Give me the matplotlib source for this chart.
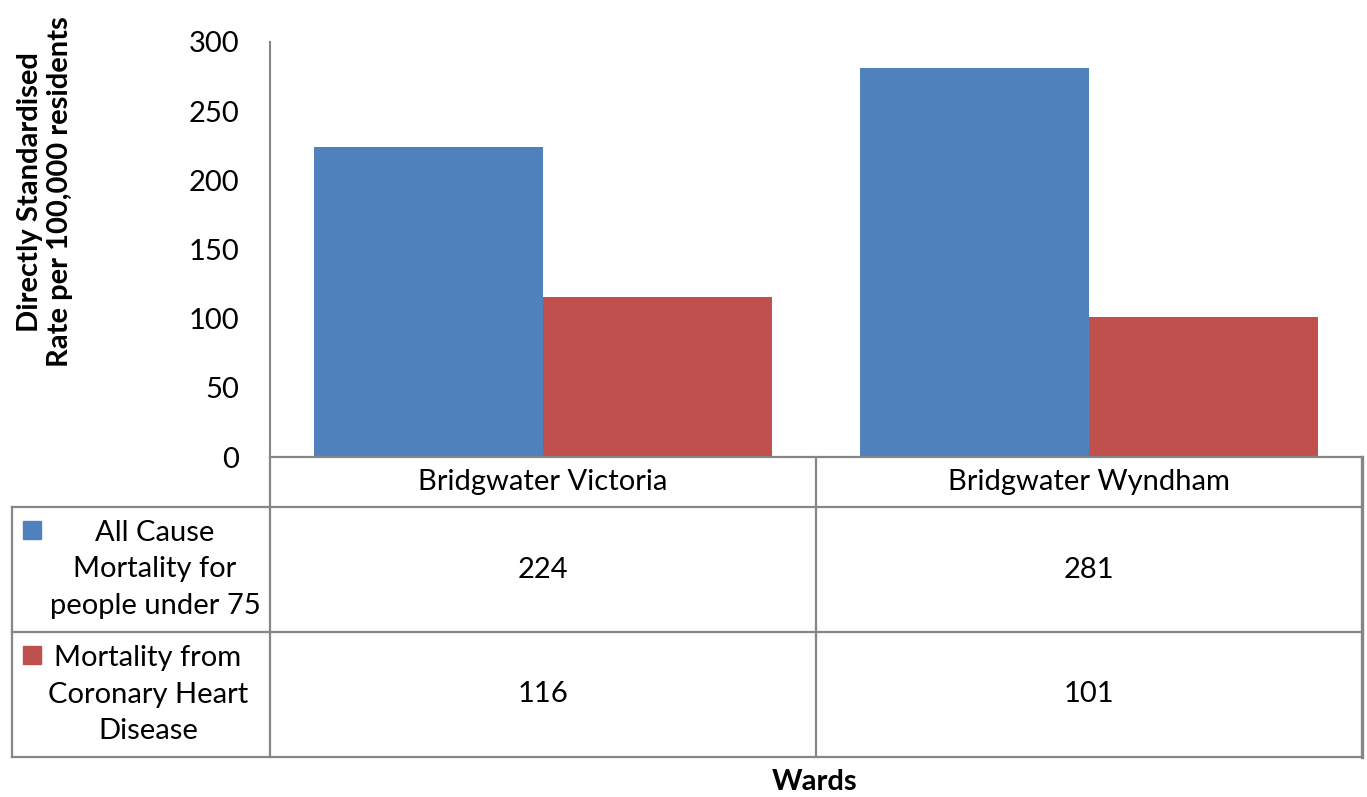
import matplotlib.pyplot as plt
import numpy as np

# Data
wards = ['Bridgwater Victoria', 'Bridgwater Wyndham']
series_names = ['All Cause\nMortality for\npeople under 75',
                'Mortality from\nCoronary Heart\nDisease']
all_cause = [224, 281]
chd = [116, 101]
colors = ['#4F81BD', '#C0504D']
yticks = [0, 50, 100, 150, 200, 250, 300]

plt.rcParams['font.family'] = ['Lato', 'DejaVu Sans']
W, H = 1367, 797
fs = 21
fig = plt.figure(figsize=(W / 100, H / 100), dpi=100)
fig.patch.set_facecolor('white')

def fx(px):
    return px / W

def fy(py):
    return 1 - py / H

# Plot area in pixels
left, right, top, bottom = 270, 1362, 42, 457
ax = fig.add_axes([fx(left), fy(bottom), fx(right - left), fy(top) - fy(bottom)])

x = np.arange(len(wards))
bw = 0.42
ax.bar(x - bw / 2, all_cause, bw, color=colors[0], edgecolor='none')
ax.bar(x + bw / 2, chd, bw, color=colors[1], edgecolor='none')
ax.set_xlim(-0.5, len(wards) - 0.5)
ax.set_ylim(0, 300)
ax.set_yticks(yticks)
ax.tick_params(axis='y', length=0, labelsize=fs, pad=22)
ax.set_xticks([])
for s in ['top', 'right', 'bottom']:
    ax.spines[s].set_visible(False)
ax.spines['left'].set_color('#868686')
ax.spines['left'].set_linewidth(1.5)

# Data table drawn under the plot
grid = '#868686'
lw = 1.6
row_tops = [457, 507, 632, 757]
col_x = [left + (right - left) * i / len(wards) for i in range(len(wards) + 1)]
label_left = 12

def hline(y, x0, x1, w=lw):
    fig.add_artist(plt.Line2D([fx(x0), fx(x1)], [fy(y), fy(y)], color=grid, lw=w))

def vline(xp, y0, y1, w=lw):
    fig.add_artist(plt.Line2D([fx(xp), fx(xp)], [fy(y0), fy(y1)], color=grid, lw=w))

hline(row_tops[0], left, right)
for y in row_tops[1:]:
    hline(y, label_left, right)
for xp in col_x[:-1]:
    vline(xp, row_tops[0], row_tops[-1])
vline(col_x[-1], row_tops[0], row_tops[-1], w=2.4)
vline(label_left, row_tops[1], row_tops[-1])

# header
for i, w in enumerate(wards):
    fig.text(fx((col_x[i] + col_x[i + 1]) / 2), fy((row_tops[0] + row_tops[1]) / 2),
             w, ha='center', va='center', fontsize=fs)

# rows
label_cx = [155, 148]
for r, (name, vals, c) in enumerate(zip(series_names, [all_cause, chd], colors)):
    y0, y1 = row_tops[r + 1], row_tops[r + 2]
    ym = (y0 + y1) / 2
    fig.text(fx(label_cx[r]), fy(ym), name, ha='center', va='center', fontsize=fs,
             linespacing=1.5)
    fig.add_artist(plt.Rectangle((fx(23), fy(y0 + 32)), fx(18), fy(0) - fy(18),
                                 color=c, transform=fig.transFigure))
    for i, v in enumerate(vals):
        fig.text(fx((col_x[i] + col_x[i + 1]) / 2), fy(ym), str(v),
                 ha='center', va='center', fontsize=fs)

# axis titles
fig.text(fx(45), fy(192), 'Directly Standardised\nRate per 100,000 residents',
         rotation=90, ha='center', va='center', fontsize=fs, fontweight='bold',
         linespacing=1.15)
fig.text(fx(815), fy(782), 'Wards', ha='center', va='center', fontsize=fs,
         fontweight='bold')

fig.savefig('out.png', dpi=100, facecolor='white')
